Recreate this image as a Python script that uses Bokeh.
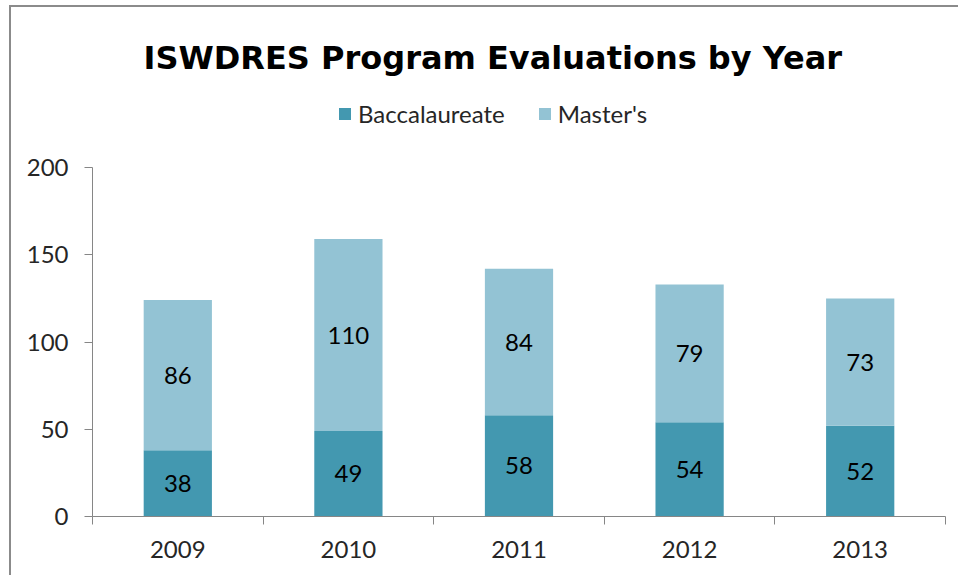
from bokeh.plotting import figure
from bokeh.models import (ColumnDataSource, Range1d, FixedTicker, Legend, LegendItem,
                          Label, LabelSet)
from bokeh.core.properties import value
from bokeh.embed import file_html
from bokeh.resources import INLINE

# ---- data ----
years = ["2009", "2010", "2011", "2012", "2013"]
baccalaureate = [38, 49, 58, 54, 52]
masters = [86, 110, 84, 79, 73]
series_names = ["Baccalaureate", "Master's"]
y_ticks = [0, 50, 100, 150, 200]
title_text = "ISWDRES Program Evaluations by Year"

# ---- style ----
C_BACC = "#4398B0"
C_MAST = "#93C3D4"
AXIS_C = "#868686"
TXT_C = "#262626"
FONT = "Lato"

n = len(years)
xs = [i + 0.5 for i in range(n)]
src = ColumnDataSource(dict(
    x=xs,
    bacc=baccalaureate,
    mast=masters,
    bacc_mid=[b / 2 for b in baccalaureate],
    mast_mid=[b + m / 2 for b, m in zip(baccalaureate, masters)],
    bacc_txt=[str(v) for v in baccalaureate],
    mast_txt=[str(v) for v in masters],
))

# layout (pixels)
W, H = 949, 570
MB_LEFT, MB_RIGHT, MB_BOTTOM = 81, 15, 61
FRAME_H = H - MB_BOTTOM
AXIS_PX = 349                    # pixel height of the 0..200 axis
PX_PER_UNIT = AXIS_PX / y_ticks[-1]
Y_END = FRAME_H / PX_PER_UNIT    # frame extends above the axis for title/legend

p = figure(width=W, height=H, output_backend="svg", toolbar_location=None,
           x_range=Range1d(0, n), y_range=Range1d(0, Y_END),
           min_border_left=MB_LEFT, min_border_right=MB_RIGHT, min_border_top=0,
           min_border_bottom=MB_BOTTOM)
p.styles = {"margin-left": "9px", "margin-top": "5px",
            "border-left": "2px solid #8b8b8b", "border-top": "2px solid #8b8b8b"}
p.outline_line_color = None
p.grid.visible = False
p.background_fill_color = "white"
p.border_fill_color = "white"

rs = p.vbar_stack(["bacc", "mast"], x="x", width=0.4, source=src,
                  color=[C_BACC, C_MAST], line_color=None)

for col, ycol in (("bacc_txt", "bacc_mid"), ("mast_txt", "mast_mid")):
    p.add_layout(LabelSet(x="x", y=ycol, text=col, source=src,
                          text_align="center", text_baseline="middle",
                          text_font=value(FONT), text_font_size="24px",
                          text_color="#000000"))

# x axis: ticks at category boundaries, labels at centres
xa = p.xaxis[0]
xa.ticker = FixedTicker(ticks=xs, minor_ticks=list(range(n + 1)))
xa.major_label_overrides = {x: y for x, y in zip(xs, years)}
xa.major_tick_line_color = None
xa.minor_tick_line_color = AXIS_C
xa.minor_tick_in = 0
xa.minor_tick_out = 8
xa.axis_line_color = AXIS_C
xa.major_label_text_font = FONT
xa.major_label_text_font_size = "24px"
xa.major_label_text_color = TXT_C
xa.major_label_standoff = 16

ya = p.yaxis[0]
ya.ticker = FixedTicker(ticks=y_ticks)
ya.bounds = (y_ticks[0], y_ticks[-1])
ya.minor_tick_line_color = None
ya.major_tick_line_color = AXIS_C
ya.major_tick_in = 0
ya.major_tick_out = 8
ya.axis_line_color = AXIS_C
ya.major_label_text_font = FONT
ya.major_label_text_font_size = "24px"
ya.major_label_text_color = TXT_C
ya.major_label_standoff = 16

# title (placed in the empty band above the axis)
CAT_PX = (W - MB_LEFT - MB_RIGHT) / n
p.add_layout(Label(x=51 / CAT_PX, y=(516 - 57) / PX_PER_UNIT,
                   text=title_text, text_align="left",
                   text_baseline="alphabetic", text_font="DejaVu Sans",
                   text_font_style="bold", text_font_size="32px",
                   text_color="#000000"))

legend = Legend(items=[LegendItem(label=series_names[i], renderers=[rs[i]])
                       for i in range(2)],
                location=(245, 388), orientation="horizontal",
                glyph_width=15, glyph_height=15, label_standoff=6, spacing=32,
                padding=0, margin=0, border_line_color=None,
                background_fill_alpha=0,
                label_text_font=FONT, label_text_font_size="24px",
                label_text_color=TXT_C)
p.add_layout(legend)

open("out.html", "w").write(file_html(p, INLINE))
